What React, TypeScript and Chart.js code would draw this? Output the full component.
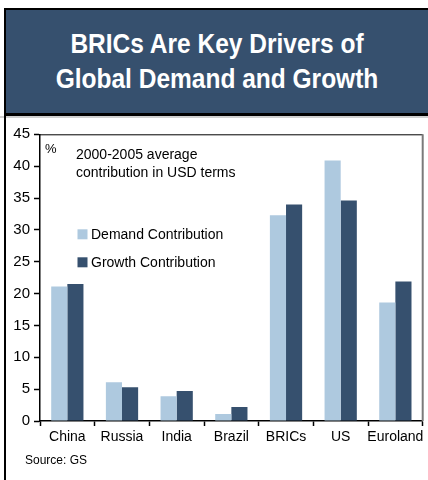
import React, { useEffect, useRef } from "react";
import { Chart, registerables } from "chart.js";
Chart.register(...registerables);

const TITLE_LINES = ["BRICs Are Key Drivers of", "Global Demand and Growth"];
const CATEGORIES = ["China", "Russia", "India", "Brazil", "BRICs", "US", "Euroland"];
const DEMAND = [21.1, 6.1, 3.9, 1.1, 32.3, 40.9, 18.6];
const GROWTH = [21.5, 5.3, 4.7, 2.2, 34.0, 34.6, 21.9];
const SERIES_NAMES = ["Demand Contribution", "Growth Contribution"];
const Y_MIN = 0;
const Y_MAX = 45;
const Y_STEP = 5;
const UNIT_LABEL = "%";
const NOTE_LINES = ["2000-2005 average", "contribution in USD terms"];
const SOURCE = "Source: GS";

const NAVY = "#36506E";
const LIGHT = "#AEC9DF";
const FONT = "'Liberation Sans', Arial, sans-serif";

const overlayPlugin = {
  id: "overlay",
  afterDraw(chart: any) {
    const { ctx, chartArea } = chart;
    const L = chartArea.left;
    const T = chartArea.top;
    ctx.save();
    // frame top & right
    ctx.strokeStyle = "#000";
    ctx.lineWidth = 1;
    ctx.beginPath();
    ctx.moveTo(L, T + 0.5);
    ctx.lineTo(chartArea.right, T + 0.5);
    ctx.stroke();
    ctx.strokeStyle = "#7a7a7a";
    ctx.lineWidth = 2;
    ctx.beginPath();
    ctx.moveTo(chartArea.right, T);
    ctx.lineTo(chartArea.right, chartArea.bottom);
    ctx.stroke();

    ctx.fillStyle = "#000";
    ctx.textBaseline = "middle";
    ctx.textAlign = "left";
    ctx.font = "13px " + FONT;
    ctx.fillText(UNIT_LABEL, L + 5, T + 15);
    ctx.font = "14px " + FONT;
    NOTE_LINES.forEach((s, i) => ctx.fillText(s, L + 36, T + 21 + i * 18));

    chart.data.datasets.forEach((ds: any, i: number) => {
      const y = T + 95 + i * 28;
      ctx.fillStyle = ds.backgroundColor;
      ctx.fillRect(L + 37.5, y, 10, 10);
      ctx.fillStyle = "#000";
      ctx.fillText(ds.label, L + 51, y + 5.5);
    });
    ctx.restore();
  },
};

export default function App() {
  const ref = useRef<HTMLCanvasElement | null>(null);
  useEffect(() => {
    if (!ref.current) return;
    const chart = new Chart(ref.current, {
      type: "bar",
      data: {
        labels: CATEGORIES,
        datasets: [
          { label: SERIES_NAMES[0], data: DEMAND, backgroundColor: LIGHT, borderWidth: 0 },
          { label: SERIES_NAMES[1], data: GROWTH, backgroundColor: NAVY, borderWidth: 0 },
        ],
      },
      options: {
        animation: false,
        responsive: false,
        devicePixelRatio: 1,
        layout: { padding: { top: 18.3, right: 5.3, bottom: 29, left: 0 } },
        plugins: { legend: { display: false }, tooltip: { enabled: false }, title: { display: false } },
        datasets: { bar: { categoryPercentage: 0.59, barPercentage: 1 } },
        scales: {
          x: {
            offset: true,
            grid: { drawOnChartArea: false, offset: true, tickLength: 5, color: "#000", tickWidth: 1.5 },
            border: { color: "#000", width: 1.5 },
            ticks: { color: "#000", font: { family: FONT, size: 14 }, padding: 3, maxRotation: 0, autoSkip: false },
            afterFit: (s: any) => {
              s.height = 30;
              s.paddingLeft = 0;
              s.paddingRight = 0;
            },
          },
          y: {
            min: Y_MIN,
            max: Y_MAX,
            grid: { drawOnChartArea: false, tickLength: 6, color: "#000", tickWidth: 1.5 },
            border: { color: "#000", width: 1.5 },
            ticks: { stepSize: Y_STEP, color: "#000", font: { family: FONT, size: 15 }, padding: 4 },
            afterFit: (s: any) => {
              s.width = 34;
              s.paddingTop = 0;
              s.paddingBottom = 0;
            },
          },
        },
      },
      plugins: [overlayPlugin],
    });
    return () => chart.destroy();
  }, []);

  return (
    <div style={{ position: "absolute", left: 0, top: 0, width: 428, height: 480, background: "#fff", overflow: "hidden" }}>
      <div
        style={{
          position: "absolute",
          left: 4,
          top: 8,
          width: 424,
          height: 108,
          boxSizing: "border-box",
          background: NAVY,
          borderLeft: "2px solid #000",
          borderTop: "2px solid #000",
          borderBottom: "3px solid #000",
        }}
      />
      {TITLE_LINES.map((t, i) => (
        <div
          key={i}
          style={{
            position: "absolute",
            left: 6,
            width: 422,
            top: 26 + i * 35,
            height: 35,
            lineHeight: "35px",
            textAlign: "center",
            color: "#fff",
            fontFamily: "'Liberation Sans', Arial, sans-serif",
            fontWeight: "bold",
            fontSize: 28,
            whiteSpace: "nowrap",
            transform: "scaleX(0.875)",
            transformOrigin: "50% 50%",
          }}
        >
          {t}
        </div>
      ))}
      <div style={{ position: "absolute", left: 0, top: 116, width: 428, height: 2, background: "#d0d0d0" }} />
      <div style={{ position: "absolute", left: 4, top: 116, width: 2, height: 364, background: "#000" }} />
      <canvas ref={ref} width={422} height={364} style={{ position: "absolute", left: 6, top: 116, width: 422, height: 364 }} />
      <div
        style={{
          position: "absolute",
          left: 25,
          top: 452,
          fontFamily: FONT,
          fontSize: 12,
          lineHeight: "16px",
          color: "#000",
          whiteSpace: "nowrap",
        }}
      >
        {SOURCE}
      </div>
    </div>
  );
}
